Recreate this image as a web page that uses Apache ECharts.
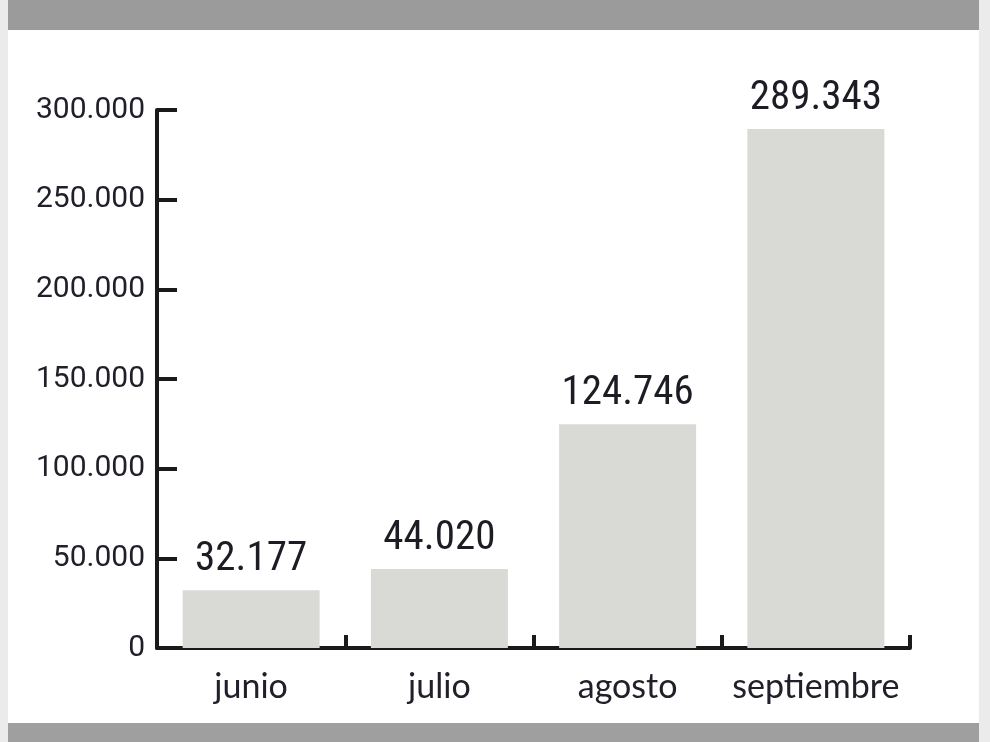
<!DOCTYPE html>
<html>
<head>
<meta charset="utf-8">
<script src="https://cdn.jsdelivr.net/npm/echarts@6/dist/echarts.min.js"></script>
<style>
  html, body { margin: 0; padding: 0; background: #ebebeb; }
  #chart { width: 990px; height: 742px; }
</style>
</head>
<body>
<div id="chart"></div>
<script>
var meses = ["junio", "julio", "agosto", "septiembre"];
var valores = [32177, 44020, 124746, 289343];
var ejeMin = 0;
var ejeMax = 300000;
var ejePaso = 50000;

// miles con punto, como en el original
function puntoMiles(v) {
    return String(v).replace(/\B(?=(\d{3})+(?!\d))/g, ".");
}

var chart = echarts.init(document.getElementById("chart"));

var option = {
    backgroundColor: "#ebebeb",
    animation: false,
    graphic: [
        { type: "rect", z: -10, shape: { x: 8, y: 0, width: 971, height: 742 }, style: { fill: "#ffffff" } },
        { type: "rect", z: -9, shape: { x: 8, y: 0, width: 971, height: 30 }, style: { fill: "#9b9b9b" } },
        { type: "rect", z: -9, shape: { x: 8, y: 723, width: 971, height: 19 }, style: { fill: "#9f9f9f" } }
    ],
    grid: { left: 157, right: 80, top: 110, bottom: 94 },
    xAxis: {
        type: "category",
        data: meses,
        axisLine: { show: true, lineStyle: { color: "#1a1a1a", width: 4 } },
        axisTick: { show: true, interval: 0, alignWithLabel: false, inside: true, length: 13, lineStyle: { color: "#1a1a1a", width: 4 } },
        axisLabel: {
            interval: 0,
            margin: 22,
            color: "#20202a",
            fontFamily: "Lato",
            fontSize: 34
        }
    },
    yAxis: {
        type: "value",
        min: ejeMin,
        max: ejeMax,
        interval: ejePaso,
        splitLine: { show: false },
        axisLine: { show: true, lineStyle: { color: "#1a1a1a", width: 4 } },
        axisTick: { show: true, inside: true, length: 20, lineStyle: { color: "#1a1a1a", width: 4 } },
        axisLabel: {
            margin: 12,
            color: "#20202a",
            fontFamily: "Roboto",
            fontSize: 30,
            formatter: function(v) { return puntoMiles(v); }
        }
    },
    series: [{
        type: "bar",
        data: valores,
        barWidth: 137,
        itemStyle: { color: "#d9dad6" },
        label: {
            show: true,
            position: "top",
            distance: 10,
            color: "#1c1c24",
            fontFamily: "Roboto Condensed",
            fontSize: 41,
            formatter: function(p) { return puntoMiles(p.value); }
        }
    }]
};

chart.setOption(option);
</script>
</body>
</html>
